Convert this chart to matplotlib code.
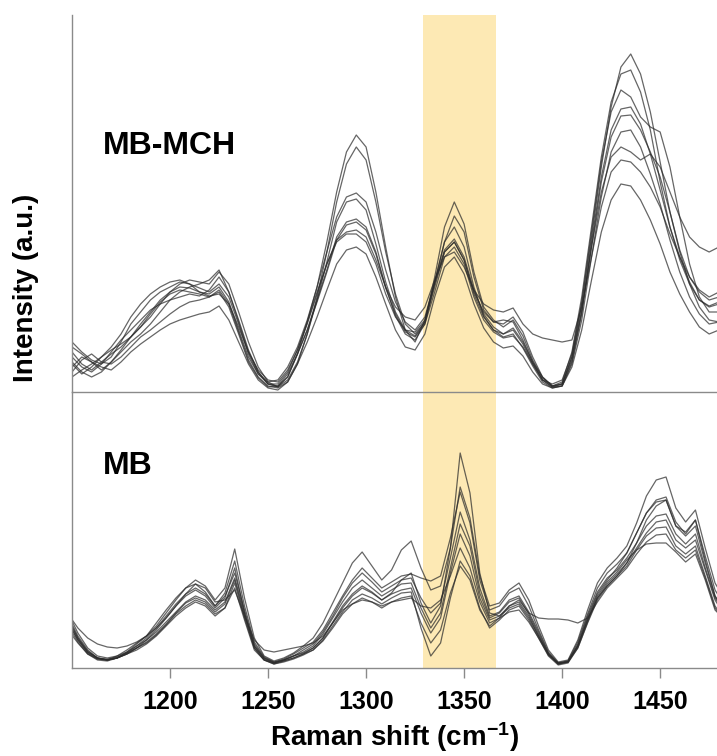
import numpy as np
import matplotlib
matplotlib.use("Agg")
import matplotlib.pyplot as plt

plt.rcParams['font.family'] = ['Liberation Sans', 'DejaVu Sans']
plt.rcParams['mathtext.fontset'] = 'custom'
plt.rcParams['mathtext.rm'] = 'Liberation Sans:bold'
plt.rcParams['mathtext.bf'] = 'Liberation Sans:bold'
plt.rcParams['mathtext.default'] = 'bf'

# ---- data (intensity in arbitrary units) ----
# MB-MCH spectra, sampled every 5 cm-1 from 1150 to 1480
wn_mch = np.arange(1150, 1481, 5)
mch_spectra = [
    [40, 28, 22, 30, 38, 45, 55,
     65, 75, 88, 100, 108, 112, 110, 108, 120, 108,
     80, 50, 25, 10, 5,
     15, 38, 70, 105, 150, 200, 240,
     257, 245, 200, 145, 95, 62, 50, 72,
     110, 150, 176, 160, 115, 82, 70,
     72, 70, 52, 30, 12, 5, 8,
     35, 88, 155, 225, 285, 325, 338, 318,
     280, 230, 180, 142, 115, 100, 92, 95],
    [25, 35, 30, 22, 30, 40, 50,
     58, 68, 80, 92, 100, 105, 108, 112, 122, 100,
     70, 40, 20, 8, 5,
     12, 30, 58, 95, 140, 190, 228,
     245, 232, 190, 140, 98, 68, 58, 70,
     115, 165, 190, 168, 120, 85, 72,
     65, 72, 56, 32, 14, 6, 10,
     40, 95, 165, 235, 290, 318, 322, 300,
     262, 210, 165, 132, 108, 92, 86, 90],
    [50, 40, 32, 28, 35, 50, 68,
     80, 92, 100, 105, 110, 108, 100, 98, 105, 90,
     62, 35, 18, 10, 12,
     25, 45, 72, 105, 140, 175, 195,
     199, 190, 160, 122, 90, 70, 62, 75,
     110, 142, 153, 135, 102, 78, 65,
     58, 62, 48, 28, 12, 8, 12,
     38, 90, 160, 230, 280, 302, 295, 275,
     265, 260, 225, 175, 128, 95, 80, 80],
    [15, 22, 28, 35, 42, 48, 55,
     65, 78, 90, 98, 102, 100, 98, 95, 102, 88,
     60, 32, 15, 6, 4,
     10, 28, 58, 92, 130, 170, 190,
     193, 182, 148, 110, 80, 62, 56, 70,
     105, 140, 150, 132, 98, 75, 62,
     58, 64, 50, 30, 15, 6, 8,
     32, 80, 150, 215, 262, 283, 285, 268,
     238, 202, 165, 135, 110, 92, 85, 88],
    [35, 25, 20, 28, 40, 52, 62,
     72, 82, 88, 92, 95, 98, 96, 102, 115, 100,
     72, 42, 20, 8, 6,
     15, 38, 62, 92, 122, 155, 170,
     173, 165, 140, 105, 76, 58, 52, 68,
     110, 150, 165, 145, 105, 76, 62,
     55, 58, 44, 26, 10, 4, 6,
     30, 78, 145, 210, 255, 276, 277, 262,
     240, 215, 180, 140, 108, 85, 72, 70],
    [20, 32, 38, 30, 28, 35, 45,
     55, 62, 70, 78, 85, 90, 92, 95, 100, 85,
     58, 30, 14, 5, 6,
     18, 38, 62, 90, 120, 152, 167,
     170, 162, 138, 104, 78, 60, 55, 68,
     100, 135, 145, 128, 95, 72, 60,
     54, 56, 45, 28, 12, 5, 6,
     28, 72, 135, 195, 240, 260, 262, 245,
     218, 188, 152, 120, 95, 78, 68, 70],
    [45, 38, 30, 25, 22, 30, 40,
     48, 55, 62, 68, 72, 75, 78, 80, 86, 72,
     50, 28, 12, 4, 2,
     10, 28, 50, 75, 102, 128, 142,
     145, 138, 115, 88, 62, 45, 42, 58,
     95, 125, 135, 118, 88, 64, 50,
     44, 46, 36, 20, 8, 4, 6,
     25, 62, 112, 160, 192, 208, 206, 192,
     172, 148, 120, 98, 80, 65, 58, 62],
    [30, 20, 15, 20, 30, 42, 55,
     68, 80, 92, 100, 105, 104, 100, 96, 98, 88,
     65, 40, 22, 12, 10,
     22, 42, 68, 98, 128, 152, 160,
     162, 155, 132, 105, 85, 75, 72, 85,
     112, 135, 140, 125, 102, 88, 82,
     80, 84, 68, 58, 54, 52, 50,
     52, 85, 135, 185, 220, 232, 230, 220,
     205, 185, 158, 135, 115, 102, 95, 100],
    [28, 18, 25, 35, 45, 58, 75,
     88, 98, 105, 110, 112, 108, 104, 100, 108, 95,
     68, 38, 18, 8, 8,
     20, 42, 70, 100, 128, 150, 158,
     158, 150, 128, 98, 75, 62, 60, 72,
     108, 140, 150, 132, 100, 80, 70,
     68, 75, 60, 35, 15, 6, 8,
     35, 82, 145, 200, 235, 245, 240, 232,
     238, 225, 200, 175, 155, 145, 140, 145],
]

# MB spectra, sampled every 5 cm-1 from 1148 to 1483
wn_mb = np.arange(1148, 1484, 5)
mb_spectra = [
    [52, 32, 18, 10, 8, 10, 14, 20,
     28, 38, 50, 62, 72, 78, 72, 60, 70, 100,
     55, 22, 10, 6, 8, 12, 15,
     20, 30, 45, 60, 72, 80, 75, 68, 75, 88, 95,
     65, 45, 62, 120, 215, 175, 95, 55, 52, 62, 66,
     52, 32, 14, 5, 6, 22, 48, 70, 82, 92,
     105, 125, 148, 162, 168, 142, 136, 148, 112, 78, 62],
    [45, 28, 15, 9, 8, 12, 18, 25,
     32, 42, 55, 68, 80, 88, 82, 68, 80, 119,
     70, 30, 12, 7, 10, 15, 22,
     30, 45, 65, 85, 105, 116, 102, 88, 98, 118, 127,
     100, 78, 82, 120, 181, 150, 92, 62, 65, 78, 85,
     68, 42, 18, 6, 8, 28, 58, 85, 100, 110,
     122, 145, 172, 188, 191, 160, 146, 158, 120, 85, 68],
    [38, 25, 14, 8, 7, 10, 16, 24,
     32, 45, 58, 70, 80, 84, 76, 62, 75, 107,
     62, 26, 11, 6, 9, 14, 20,
     26, 38, 55, 72, 88, 100, 90, 80, 86, 92, 94,
     90, 87, 92, 130, 176, 145, 88, 58, 62, 75, 80,
     62, 38, 16, 5, 7, 26, 54, 80, 95, 104,
     115, 135, 155, 168, 171, 146, 134, 148, 108, 72, 55],
    [48, 30, 16, 10, 8, 10, 15, 22,
     30, 40, 52, 64, 74, 80, 74, 62, 72, 95,
     58, 24, 10, 5, 8, 12, 18,
     24, 36, 52, 70, 85, 95, 86, 76, 82, 88, 90,
     70, 55, 65, 110, 156, 128, 80, 52, 56, 68, 72,
     56, 36, 15, 4, 6, 24, 52, 76, 90, 98,
     110, 125, 142, 152, 154, 134, 124, 134, 100, 70, 55],
    [55, 35, 20, 12, 10, 12, 16, 22,
     28, 36, 46, 56, 66, 72, 68, 58, 66, 90,
     55, 22, 9, 5, 8, 12, 16,
     22, 34, 50, 66, 80, 88, 80, 72, 78, 84, 85,
     60, 40, 55, 100, 144, 122, 75, 50, 55, 66, 70,
     54, 34, 14, 5, 7, 22, 50, 74, 88, 100,
     115, 135, 155, 166, 168, 142, 132, 142, 105, 72, 58],
    [42, 26, 14, 9, 8, 10, 14, 20,
     26, 34, 44, 55, 65, 70, 66, 56, 64, 88,
     52, 20, 8, 4, 7, 10, 14,
     20, 30, 46, 62, 74, 82, 76, 68, 74, 78, 80,
     55, 35, 50, 95, 134, 112, 70, 48, 52, 60, 64,
     50, 32, 13, 4, 6, 20, 46, 70, 84, 94,
     105, 120, 135, 146, 148, 128, 120, 128, 98, 68, 52],
    [50, 30, 17, 10, 8, 10, 14, 18,
     24, 32, 42, 52, 60, 66, 62, 52, 60, 85,
     50, 20, 8, 4, 6, 9, 13,
     18, 28, 42, 56, 68, 74, 70, 64, 70, 75, 76,
     40, 12, 25, 70, 107, 92, 60, 40, 48, 58, 62,
     48, 30, 12, 3, 5, 20, 45, 68, 82, 92,
     102, 118, 132, 140, 141, 122, 114, 122, 92, 62, 48],
    [46, 28, 16, 10, 9, 11, 15, 20,
     25, 33, 43, 54, 62, 68, 64, 54, 60, 80,
     48, 18, 8, 5, 7, 10, 14,
     18, 27, 40, 54, 64, 70, 66, 60, 66, 70, 72,
     45, 25, 38, 75, 102, 88, 58, 42, 50, 62, 68,
     55, 50, 49, 49, 48, 45, 50, 66, 80, 90,
     100, 114, 126, 133, 134, 118, 110, 118, 90, 60, 47],
    [54, 40, 30, 24, 21, 20, 22, 26,
     32, 40, 50, 62, 74, 84, 80, 66, 68, 78,
     52, 28, 18, 16, 18, 20, 22,
     25, 32, 45, 58, 64, 68, 66, 62, 66, 68, 70,
     62, 60, 68, 92, 120, 100, 66, 45, 50, 56, 58,
     46, 30, 13, 4, 6, 22, 48, 72, 86, 96,
     108, 118, 124, 125, 125, 116, 106, 114, 88, 58, 48],
]

band = (1329, 1366.3)
xticks = [1200, 1250, 1300, 1350, 1400, 1450]

# ---- figure ----
W, H = 717, 756
fig = plt.figure(figsize=(W / 100, H / 100), dpi=100)
left = 72 / W
width = (W - 72) / W
ax_bot = fig.add_axes([left, 1 - 668 / H, width, (668 - 392) / H])
ax_top = fig.add_axes([left, 1 - 392 / H, width, (392 - 15) / H])
ax_top.set_zorder(3)

line_kw = dict(color='#2b2b2b', lw=0.9, alpha=0.72)
spine_col = '#8a8a8a'

for ax, wn, spectra, ymax, name, ty in [
        (ax_top, wn_mch, mch_spectra, 377, 'MB-MCH', 246),
        (ax_bot, wn_mb, mb_spectra, 276, 'MB', 202)]:
    ax.patch.set_alpha(0)
    ax.axvspan(band[0], band[1], color='#fde9b4', lw=0, zorder=0)
    for s in spectra:
        ax.plot(wn, s, zorder=2, **line_kw)
    ax.set_xlim(1150, 1479)
    ax.set_ylim(0, ymax)
    ax.set_yticks([])
    for side in ['top', 'right']:
        ax.spines[side].set_visible(False)
    for side in ['left', 'bottom']:
        ax.spines[side].set_color(spine_col)
        ax.spines[side].set_linewidth(1.0)
        ax.spines[side].set_zorder(5)
    ax.text(1166, ty, name, fontsize=23, fontweight='bold', va='center', ha='left')

ax_top.set_xticks([])
ax_bot.set_xticks(xticks)
ax_bot.tick_params(axis='x', direction='out', length=7, width=1,
                   color=spine_col, labelsize=18, pad=9)
for lab in ax_bot.get_xticklabels():
    lab.set_fontweight('bold')

fig.text((72 + W) / 2 / W, 1 - 737 / H, r'Raman shift (cm$^{-1}$)',
         fontsize=20, fontweight='bold', ha='center', va='center')
fig.text(26 / W, 1 - 288 / H, 'Intensity (a.u.)', fontsize=20,
         fontweight='bold', rotation=90, ha='center', va='center')

fig.savefig('out.png', dpi=100)
